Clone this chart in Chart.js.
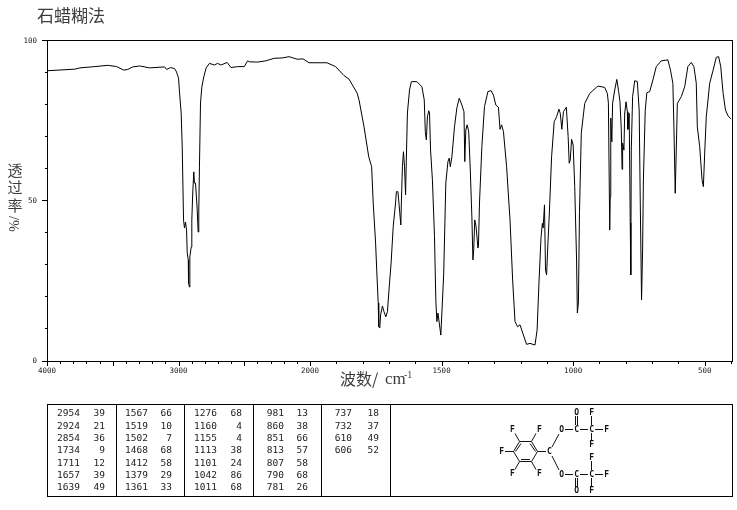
<!DOCTYPE html>
<html lang="zh">
<head>
<meta charset="utf-8">
<style>html,body{margin:0;padding:0;background:#fff}#wrap{position:relative;width:737px;height:510px}</style>
<script src="https://cdn.jsdelivr.net/npm/chart.js@4"></script>
</head>
<body>
<div id="wrap"><canvas id="c" width="737" height="510"></canvas></div>
<script>
const wavenumbers = [4000,3917,3788,3750,3636,3538,3470,3417,3386,3348,3295,3220,3106,3091,3061,3030,3015,3000,2992,2980,2972,2962,2955,2947,2939,2934,2926,2924,2917,2914,2904,2899,2892,2884,2879,2871,2866,2858,2851,2846,2841,2833,2823,2808,2790,2765,2727,2704,2676,2631,2601,2551,2500,2475,2462,2401,2336,2273,2212,2159,2098,2053,2008,1936,1903,1871,1852,1821,1814,1802,1795,1777,1766,1760,1751,1745,1741,1739,1735,1732,1725,1719,1712,1706,1698,1692,1684,1675,1672,1666,1659,1655,1653,1649,1645,1641,1637,1635,1630,1622,1615,1594,1575,1566,1562,1558,1554,1549,1546,1542,1535,1527,1522,1518,1514,1509,1503,1499,1492,1484,1476,1471,1467,1461,1451,1442,1433,1423,1415,1412,1408,1403,1397,1391,1385,1381,1378,1374,1369,1362,1360,1356,1347,1337,1324,1312,1303,1294,1284,1278,1272,1265,1253,1240,1230,1221,1211,1202,1189,1177,1164,1145,1137,1130,1122,1117,1114,1109,1105,1101,1097,1090,1082,1072,1063,1054,1049,1043,1037,1026,1019,1015,1011,1006,1000,994,987,984,980,976,969,956,937,912,905,880,870,866,861,859,857,853,850,842,834,827,822,817,814,812,807,804,799,794,792,787,783,781,779,774,766,756,749,745,740,736,733,726,720,709,697,684,665,640,630,621,617,612,608,604,589,576,564,551,541,532,528,519,510,505,500,494,481,468,456,447,439,430,421,411,402,400];
const transmittance = [90.7,90.9,91.2,91.6,92.0,92.4,92.0,90.9,91.1,91.9,92.2,91.6,91.9,91.1,91.7,91.4,90.3,88.4,83.7,77.5,66.9,44.1,41.6,43.4,40.9,33.8,31.6,24.4,23.1,32.5,35.6,44.1,52.5,59.1,55.6,55.6,52.5,47.2,40.3,47.2,60.6,80.6,85.6,88.8,91.6,93.0,92.5,93.0,92.5,93.3,91.7,92.0,92.0,93.8,93.5,93.4,93.8,94.6,94.7,95.1,94.3,94.4,93.2,93.2,92.0,89.2,88.1,83.7,81.6,76.3,73.2,63.8,60.7,49.4,36.9,25.3,18.1,10.7,10.3,14.4,17.2,15.4,13.8,15.4,24.4,30.6,42.0,49.4,52.9,52.9,46.3,42.5,49.4,60.7,65.4,60.7,51.9,59.7,77.5,84.7,87.3,87.3,85.7,81.6,71.7,69.1,76.3,78.2,77.5,65.9,56.6,38.8,19.1,12.3,15.0,11.9,8.1,15.0,27.5,55.6,62.3,63.4,60.7,63.8,73.2,79.1,82.1,80.0,77.9,62.3,72.2,73.8,71.7,59.7,45.1,31.6,34.7,44.1,42.0,35.3,35.7,49.4,67.0,79.5,84.2,84.5,83.1,80.0,79.3,72.4,73.8,71.7,60.7,44.1,25.3,12.3,10.7,11.3,8.1,5.2,5.5,5.0,9.7,24.4,38.8,43.0,41.6,48.8,28.4,26.9,34.7,47.2,63.8,74.8,76.3,78.7,77.4,72.4,77.9,79.3,70.1,61.8,62.8,69.3,67.5,54.5,31.6,15.0,18.1,46.3,71.3,80.5,83.6,85.5,85.9,85.5,83.6,80.6,40.9,51.3,75.9,68.5,80.6,84.7,88.0,84.2,81.0,72.2,59.9,68.1,65.9,77.5,81.0,77.9,72.4,77.4,43.1,26.9,65.9,82.6,87.6,87.3,78.4,50.3,19.1,34.7,56.6,78.4,83.8,84.2,87.8,92.0,93.8,94.1,90.9,86.8,73.2,52.4,65.9,80.5,82.6,85.7,92.0,93.3,92.0,86.8,73.2,67.0,56.6,54.5,65.0,76.3,86.8,90.9,94.9,95.1,92.0,83.7,78.4,76.6,75.8,75.7];

const xTickLabels = [4000,3000,2000,1500,1000,500];
const yTickLabels = [0,50,100];
const titleText = "石蜡糊法";
const yTitleText = ["透","过","率"];
const yUnitText = "%/";
const xTitleText = "波数/";
const xUnitText = "cm";
const xUnitPower = "-1";

const peakCol1 = [["2954",39],["2924",21],["2854",36],["1734",9],["1711",12],["1657",39],["1639",49]];
const peakCol2 = [["1567",66],["1519",10],["1502",7],["1468",68],["1412",58],["1379",29],["1361",33]];
const peakCol3 = [["1276",68],["1160",4],["1155",4],["1113",38],["1101",24],["1042",86],["1011",68]];
const peakCol4 = [["981",13],["860",38],["851",66],["813",57],["807",58],["790",68],["781",26]];
const peakCol5 = [["737",18],["732",37],["610",49],["606",52]];

// Axis with the usual IR scale change: 2000-400 cm-1 is drawn at twice the scale of 4000-2000.
class IrScale extends Chart.LinearScale {
  _u(v){ return v >= 2000 ? (4000 - v) / 2 : 1000 + (2000 - v); }
  getPixelForValue(v){ return this.left + this.width * this._u(v) / this._u(this.options.min); }
  getValueForPixel(p){
    const u = (p - this.left) / this.width * this._u(this.options.min);
    return u <= 1000 ? 4000 - 2 * u : 2000 - (u - 1000);
  }
}
IrScale.id = 'irscale';
IrScale.defaults = Chart.LinearScale.defaults;
Chart.register(IrScale);

const INK = '#000';
const SOFT = '#3c3c3c';
const MONO = '"DejaVu Sans Mono", monospace';
const CJK = '"Noto Sans CJK SC", sans-serif';

function drawAxes(chart){
  const {ctx, scales:{x,y}} = chart;
  ctx.save();
  ctx.strokeStyle = INK; ctx.lineWidth = 1;
  ctx.strokeRect(47.5, 40.5, 685, 321);
  ctx.beginPath();
  x.ticks.forEach(t => {
    const px = Math.round(x.getPixelForValue(t.value)) + 0.5;
    ctx.moveTo(px, 362);
    ctx.lineTo(px, t.value % 500 === 0 ? 366 : 364);
  });
  y.ticks.forEach(t => {
    const py = Math.round(y.getPixelForValue(t.value)) + (t.value === 0 ? 0.5 : -0.5);
    ctx.moveTo(47, py);
    ctx.lineTo(t.value % 50 === 0 ? 42 : 45, py);
  });
  ctx.stroke();
  ctx.restore();
}

function drawTitles(ctx){
  ctx.save();
  ctx.fillStyle = SOFT;
  ctx.textBaseline = 'middle';
  ctx.textAlign = 'left';
  ctx.font = '17px ' + CJK;
  ctx.fillText(titleText, 37, 16);
  ctx.font = '15px ' + CJK;
  ctx.textAlign = 'center';
  yTitleText.forEach((s, i) => ctx.fillText(s, 15, 170 + i * 17.5));
  ctx.save();
  ctx.translate(15, 224);
  ctx.rotate(-Math.PI / 2);
  ctx.font = '14px "Liberation Serif", serif';
  ctx.fillText(yUnitText, 0, 0);
  ctx.restore();
  ctx.textAlign = 'left';
  ctx.font = '16px ' + CJK;
  ctx.fillText(xTitleText, 340, 379);
  ctx.font = '17px "Liberation Serif", serif';
  ctx.fillText(xUnitText, 385, 380);
  ctx.font = '10px "Liberation Serif", serif';
  ctx.fillText(xUnitPower, 404, 375);
  ctx.restore();
}

function drawTable(ctx){
  ctx.save();
  ctx.strokeStyle = INK; ctx.lineWidth = 1;
  ctx.strokeRect(47.5, 404.5, 685, 92);
  ctx.beginPath();
  [116.5, 184.5, 253.5, 321.5, 390.5].forEach(v => { ctx.moveTo(v, 404); ctx.lineTo(v, 497); });
  ctx.stroke();
  ctx.fillStyle = '#222';
  ctx.font = '9.5px ' + MONO;
  ctx.textBaseline = 'middle';
  const cols = [[peakCol1, 80, 105], [peakCol2, 148, 172], [peakCol3, 217, 242], [peakCol4, 284, 308], [peakCol5, 352, 379]];
  cols.forEach(([rows, xa, xb]) => rows.forEach((r, i) => {
    const py = 414 + i * 12.3;
    ctx.textAlign = 'right';
    ctx.fillText(r[0], xa, py);
    ctx.fillText(String(r[1]), xb, py);
  }));
  ctx.restore();
}

function drawStructure(ctx){
  ctx.save();
  ctx.strokeStyle = '#111'; ctx.lineWidth = 1;
  const seg = [
    [519.5,441.5,531.5,441.5],[531.5,441.5,537.5,451.5],[537.5,451.5,531.5,461.5],
    [531.5,461.5,519.5,461.5],[519.5,461.5,513.5,451.5],[513.5,451.5,519.5,441.5],
    [521,459.5,530,459.5],[521,443.5,515.5,451.5],[530,443.5,535.5,451.5],
    [519.5,441.5,515,433.5],[531.5,441.5,536,433.5],[513.5,451.5,505,451.5],
    [519.5,461.5,515,469.5],[531.5,461.5,536,469.5],[537.5,451.5,546,451.5],
    [552,447,559,434],[552,456,559,470],
    [565,429.5,573,429.5],[565,474.5,573,474.5],
    [580,429.5,588,429.5],[580,474.5,588,474.5],
    [595,429.5,603,429.5],[595,474.5,603,474.5],
    [575.5,416,575.5,425],[577.5,416,577.5,425],[575.5,478,575.5,487],[577.5,478,577.5,487],
    [591.5,416,591.5,425],[591.5,433,591.5,441],[591.5,461,591.5,470],[591.5,478,591.5,486]
  ];
  ctx.beginPath();
  seg.forEach(s => { ctx.moveTo(s[0], s[1]); ctx.lineTo(s[2], s[3]); });
  ctx.stroke();
  ctx.fillStyle = '#111';
  ctx.font = 'bold 8px ' + MONO;
  ctx.textAlign = 'center';
  ctx.textBaseline = 'middle';
  [['F',512.3,429.5],['F',539.3,429.5],['F',501.7,451.7],['F',512.3,473.5],['F',539.3,473.5],
   ['C',549.3,451.7],['O',561.7,429.5],['O',561.7,474.5],['C',576.7,429.5],['C',576.7,474.5],
   ['O',576.7,412.5],['O',576.7,490.5],['C',591.7,429.5],['C',591.7,474.5],['F',591.7,412.5],
   ['F',606.7,429.5],['F',591.7,445],['F',591.7,457.5],['F',606.7,474.5],['F',591.7,490.5]
  ].forEach(l => ctx.fillText(l[0], l[1], l[2]));
  ctx.restore();
}

const decorations = {
  id: 'decorations',
  beforeDraw(chart){
    const c = chart.ctx;
    c.save(); c.fillStyle = '#fff'; c.fillRect(0, 0, chart.width, chart.height); c.restore();
  },
  afterDraw(chart){
    drawAxes(chart);
    drawTitles(chart.ctx);
    drawTable(chart.ctx);
    drawStructure(chart.ctx);
  }
};

new Chart(document.getElementById('c'), {
  type: 'line',
  data: {
    datasets: [{
      label: '透过率',
      data: wavenumbers.map((w, i) => ({x: w, y: transmittance[i]})),
      borderColor: '#000',
      borderWidth: 1,
      pointRadius: 0,
      tension: 0,
      fill: false
    }]
  },
  plugins: [decorations],
  options: {
    responsive: false,
    animation: false,
    layout: {padding: {left: 0, right: 4, top: 41, bottom: 129}},
    plugins: {legend: {display: false}, title: {display: false}, tooltip: {enabled: false}},
    scales: {
      x: {
        type: 'irscale',
        min: 400, max: 4000,
        grid: {display: false, drawTicks: false},
        border: {display: false},
        afterFit: s => { s.height = 20; },
        afterBuildTicks: s => {
          const t = [];
          for (let v = 4000; v >= 400; v -= 100) t.push({value: v});
          s.ticks = t;
        },
        ticks: {
          autoSkip: false, maxRotation: 0, minRotation: 0, padding: 6,
          color: '#222', font: {family: 'DejaVu Sans Mono', size: 7.5},
          callback: v => xTickLabels.includes(v) ? String(v) : ''
        }
      },
      y: {
        min: 0, max: 100,
        grid: {display: false, drawTicks: false},
        border: {display: false},
        afterFit: s => { s.width = 47; },
        ticks: {
          stepSize: 10, autoSkip: false, padding: 10,
          color: '#222', font: {family: 'DejaVu Sans Mono', size: 7.5},
          callback: v => yTickLabels.includes(v) ? String(v) : ''
        }
      }
    }
  }
});
</script>
</body>
</html>
